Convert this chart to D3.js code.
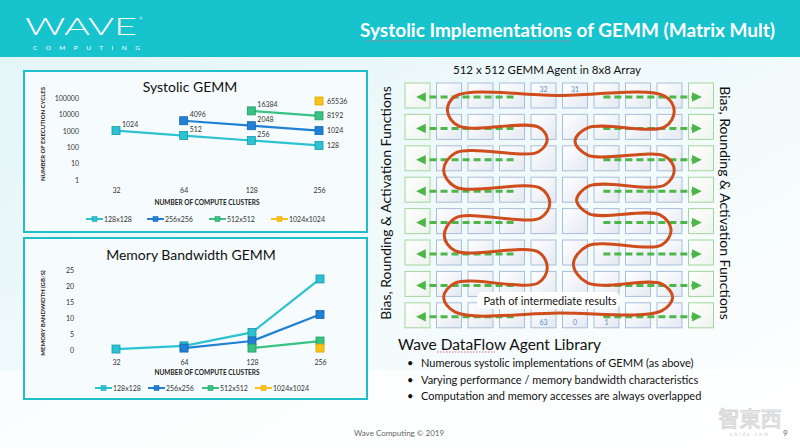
<!DOCTYPE html>
<html><head><meta charset="utf-8">
<script src="https://cdn.jsdelivr.net/npm/d3@7"></script>
<style>html,body{margin:0;padding:0;background:#fff}svg{display:block;font-family:Lato,"Open Sans",sans-serif}</style>
</head><body>
<svg id="c" width="800" height="448"></svg>
<script>
// ---------- data ----------
const clusters = ["32", "64", "128", "256"];
const seriesNames = ["128x128", "256x256", "512x512", "1024x1024"];
const cycles128 = [1024, 512, 256, 128];
const cycles256 = [null, 4096, 2048, 1024];
const cycles512 = [null, null, 16384, 8192];
const cycles1024 = [null, null, null, 65536];
const cycleTicks = [1, 10, 100, 1000, 10000, 100000];
const bw128 = [0.3, 1.3, 5.5, 22.2];
const bw256 = [null, 0.6, 2.8, 11.1];
const bw512 = [null, null, 0.6, 2.8];
const bw1024 = [null, null, null, 0.6];
const bwTicks = [0, 5, 10, 15, 20, 25];
const bullets = [
  "Numerous systolic implementations of GEMM (as above)",
  "Varying performance / memory bandwidth characteristics",
  "Computation and memory accesses are always overlapped"
];
const gridCols = 10, gridRows = 8;
const cellLabels = [[4, 0, "32"], [5, 0, "31"], [4, 7, "63"], [5, 7, "0"], [6, 7, "1"]];
// path of intermediate results, in grid units [col,row]
const pathPts = [[1.2,0.02],[4.5,0],[7.85,0.02],[8.15,0.5],[7.85,1.0],[5.4,1.03],[5.0,1.45],[5.4,1.9],[7.85,1.93],[8.15,2.37],[7.85,2.85],[5.45,2.88],[5.05,3.33],[5.45,3.77],[7.7,3.8],[8.05,4.28],[7.75,4.76],[5.4,4.79],[4.95,5.37],[5.4,5.97],[7.75,6.0],[8.1,6.42],[7.75,6.86],[4.5,6.93],[1.2,6.9],[0.83,6.42],[1.2,5.97],[3.83,5.97],[4.12,5.49],[3.83,4.98],[1.2,4.95],[0.85,4.47],[1.2,3.9],[3.9,3.9],[4.2,3.42],[3.9,2.95],[1.2,2.91],[0.83,2.37],[1.2,1.83],[3.83,1.8],[4.12,1.39],[3.83,1.0],[1.3,0.97],[0.95,0.49]];

const colors = ["#2cc2d1", "#1f80d6", "#38c283", "#fbc21c"];
const strokes = ["#1499a8", "#1463b0", "#24995f", "#e3a300"];

const svg = d3.select("#c");
const defs = svg.append("defs");
const bg = defs.append("linearGradient").attr("id","bg").attr("x1",0).attr("y1",0).attr("x2",1).attr("y2",1);
bg.append("stop").attr("offset","0%").attr("stop-color","#e2f4f7");
bg.append("stop").attr("offset","60%").attr("stop-color","#f3fbfc");
bg.append("stop").attr("offset","100%").attr("stop-color","#ffffff");
const cg = defs.append("linearGradient").attr("id","cell").attr("x1",0).attr("y1",0).attr("x2",1).attr("y2",1);
cg.append("stop").attr("offset","0%").attr("stop-color","#ffffff");
cg.append("stop").attr("offset","100%").attr("stop-color","#e3e9f1");
const gg = defs.append("linearGradient").attr("id","gcell").attr("x1",0).attr("y1",0).attr("x2",1).attr("y2",1);
gg.append("stop").attr("offset","0%").attr("stop-color","#ffffff");
gg.append("stop").attr("offset","100%").attr("stop-color","#eef3ee");
defs.append("marker").attr("id","arr").attr("viewBox","0 0 10 10").attr("refX",2).attr("refY",5)
  .attr("markerWidth",3.2).attr("markerHeight",3.2).attr("orient","auto-start-reverse")
  .append("path").attr("d","M0,0L10,5L0,10Z").attr("fill","#4cb649");

svg.append("rect").attr("width",800).attr("height",448).attr("fill","url(#bg)");
svg.append("rect").attr("y",370).attr("width",800).attr("height",78).attr("fill","#fff").attr("opacity",0.7);

// ---------- header ----------
svg.append("rect").attr("width",800).attr("height",57).attr("fill","#17c3cd");
svg.append("text").attr("x",25).attr("y",35).attr("fill","#fff").attr("font-size",24).attr("font-weight",300)
  .attr("textLength",112).attr("lengthAdjust","spacingAndGlyphs").text("WAVE");
svg.append("text").attr("x",139).attr("y",20).attr("fill","#fff").attr("font-size",4).text("®");
svg.append("text").attr("x",33).attr("y",50).attr("fill","#fff").attr("font-size",6.5)
  .attr("textLength",107).attr("lengthAdjust","spacing").text("COMPUTING");
svg.append("text").attr("x",775).attr("y",37).attr("text-anchor","end").attr("fill","#fff")
  .attr("font-size",19).attr("font-weight",700).text("Systolic Implementations of GEMM (Matrix Mult)");
svg.append("line").attr("x1",366).attr("x2",571).attr("y1",41).attr("y2",41)
  .attr("stroke","#e0677a").attr("stroke-width",1).attr("stroke-dasharray","1.5,1.5");

// ---------- chart helper ----------
function panel(cfg) {
  const g = svg.append("g");
  g.append("rect").attr("x",cfg.box[0]).attr("y",cfg.box[1]).attr("width",cfg.box[2]).attr("height",cfg.box[3])
    .attr("fill","#f6fcfd").attr("stroke","#1fbfca").attr("stroke-width",2);
  g.append("text").attr("x",cfg.titleX).attr("y",cfg.titleY).attr("text-anchor","middle").attr("font-size",14)
    .attr("fill","#111").text(cfg.title);
  const x = d3.scalePoint().domain(clusters).range(cfg.xRange);
  const y = cfg.y;
  const ya = g.append("g").attr("transform",`translate(${cfg.yAxisX},0)`)
    .call(d3.axisLeft(y).tickValues(cfg.ticks).tickFormat(cfg.fmt).tickSize(0).tickPadding(0));
  ya.select(".domain").remove();
  ya.selectAll("text").attr("font-size",7).attr("fill","#333").attr("font-family","Lato");
  const xa = g.append("g").attr("transform",`translate(0,${cfg.xAxisY})`)
    .call(d3.axisBottom(x).tickSize(0).tickPadding(0));
  xa.select(".domain").remove();
  xa.selectAll("text").attr("font-size",7).attr("fill","#333").attr("font-family","Lato");
  g.append("text").attr("x",cfg.xTitle[0]).attr("y",cfg.xTitle[1]).attr("text-anchor","middle")
    .attr("font-size",6.5).attr("font-weight",700).attr("fill","#222").text("NUMBER OF COMPUTE CLUSTERS");
  g.append("text").attr("transform",`translate(${cfg.yTitle[0]},${cfg.yTitle[1]}) rotate(-90)`).attr("text-anchor","middle")
    .attr("font-size",6).attr("font-weight",700).attr("fill","#222").text(cfg.yTitleText);
  cfg.series.forEach((vals, i) => {
    const pts = clusters.map((c, j) => ({c, v: vals[j]})).filter(d => d.v != null);
    const line = d3.line().x(d => x(d.c)).y(d => y(d.v));
    g.append("path").datum(pts).attr("d",line).attr("fill","none").attr("stroke",colors[i]).attr("stroke-width",2.2);
    g.selectAll(null).data(pts).join("rect")
      .attr("x",d => x(d.c)-4).attr("y",d => y(d.v)-4).attr("width",8).attr("height",8)
      .attr("fill",colors[i]).attr("stroke",strokes[i]).attr("stroke-width",0.8);
    if (cfg.labels) {
      g.selectAll(null).data(pts).join("text")
        .attr("x",d => x(d.c) + (d.c === "256" ? 8 : 6))
        .attr("y",d => y(d.v) + (d.c === "256" ? 2.5 : -4))
        .attr("font-size",7).attr("fill","#333").text(d => d.v);
    }
  });
  cfg.legendX.forEach((lx, i) => {
    const ly = cfg.legendY;
    g.append("line").attr("x1",lx).attr("x2",lx+17).attr("y1",ly).attr("y2",ly).attr("stroke",colors[i]).attr("stroke-width",2);
    g.append("rect").attr("x",lx+6).attr("y",ly-2.5).attr("width",5).attr("height",5).attr("fill",colors[i]).attr("stroke",strokes[i]).attr("stroke-width",0.5);
    g.append("text").attr("x",lx+18).attr("y",ly+2.5).attr("font-size",7).attr("fill","#333").text(seriesNames[i]);
  });
}

panel({
  box:[24,71,343,161], title:"Systolic GEMM", titleX:190, titleY:92,
  y: d3.scaleLog().domain([1,100000]).range([180,98]), ticks: cycleTicks, fmt: d3.format("d"),
  yAxisX:79, xRange:[116,319], xAxisY:188, xTitle:[207,205], yTitle:[45,134],
  yTitleText:"NUMBER OF EXECUTION CYCLES",
  series:[cycles128,cycles256,cycles512,cycles1024], labels:true,
  legendX:[86,147,209,271], legendY:219
});
panel({
  box:[24,238,343,161], title:"Memory Bandwidth GEMM", titleX:191, titleY:260,
  y: d3.scaleLinear().domain([0,25]).range([350,270]), ticks: bwTicks, fmt: d3.format("d"),
  yAxisX:74, xRange:[116,320], xAxisY:360, xTitle:[207,375], yTitle:[45,313],
  yTitleText:"MEMORY BANDWIDTH (GB/S)",
  series:[bw128,bw256,bw512,bw1024], labels:false,
  legendX:[95,148,202,255], legendY:388
});

// ---------- array diagram ----------
const gx = d3.scaleLinear().domain([0, gridCols-1]).range([417.5, 701]);
const gy = d3.scaleLinear().domain([0, gridRows-1]).range([95.5, 315.3]);
const dg = svg.append("g");
dg.append("text").attr("x",547).attr("y",74).attr("text-anchor","middle").attr("font-size",11.5).attr("fill","#111")
  .text("512 x 512 GEMM Agent in 8x8 Array");
const cells = [];
for (let r = 0; r < gridRows; r++) for (let c = 0; c < gridCols; c++) cells.push({r, c});
dg.selectAll(null).data(cells).join("rect")
  .attr("x",d => gx(d.c)-12.5).attr("y",d => gy(d.r)-12.5).attr("width",25).attr("height",25)
  .attr("fill",d => (d.c === 0 || d.c === gridCols-1) ? "url(#gcell)" : "url(#cell)")
  .attr("stroke",d => (d.c === 0 || d.c === gridCols-1) ? "#a3d69e" : "#a9bedb").attr("stroke-width",1);
dg.selectAll(null).data(cellLabels).join("text")
  .attr("x",d => gx(d[0])).attr("y",d => d[1] === 0 ? gy(d[1]) - 4 : gy(d[1]) + 9.5)
  .attr("text-anchor","middle").attr("font-size",7).attr("fill","#5a8fc8").text(d => d[2]);
const rows = d3.range(gridRows);
dg.selectAll(null).data(rows).join("line")
  .attr("x1",gx(3.05)).attr("x2",gx(0.2)).attr("y1",d => gy(d)+1.5).attr("y2",d => gy(d)+1.5)
  .attr("stroke","#4cb649").attr("stroke-width",3).attr("stroke-dasharray","7,4").attr("marker-end","url(#arr)");
dg.selectAll(null).data(rows).join("line")
  .attr("x1",gx(5.9)).attr("x2",gx(8.78)).attr("y1",d => gy(d)+1.5).attr("y2",d => gy(d)+1.5)
  .attr("stroke","#4cb649").attr("stroke-width",3).attr("stroke-dasharray","7,4").attr("marker-end","url(#arr)");
dg.append("path").datum(pathPts)
  .attr("d", d3.line().x(d => gx(d[0])).y(d => gy(d[1])).curve(d3.curveCatmullRomClosed.alpha(0.5)))
  .attr("fill","none").attr("stroke","#cf4d1c").attr("stroke-width",3);
dg.append("rect").attr("x",477).attr("y",292).attr("width",143).attr("height",17).attr("rx",6)
  .attr("fill","#fff");
dg.append("text").attr("x",550).attr("y",305).attr("text-anchor","middle").attr("font-size",11).attr("fill","#111")
  .text("Path of intermediate results");
dg.append("text").attr("transform","translate(391,203) rotate(-90)").attr("text-anchor","middle")
  .attr("font-size",14).attr("fill","#111").text("Bias, Rounding & Activation Functions");
dg.append("text").attr("transform","translate(720,203) rotate(90)").attr("text-anchor","middle")
  .attr("font-size",14).attr("fill","#111").text("Bias, Rounding & Activation Functions");

// ---------- bottom text ----------
svg.append("text").attr("x",398).attr("y",350).attr("font-size",15.5).attr("fill","#111").text("Wave DataFlow Agent Library");
svg.append("line").attr("x1",437).attr("x2",495).attr("y1",352).attr("y2",352)
  .attr("stroke","#e0677a").attr("stroke-width",1).attr("stroke-dasharray","1.5,1.5");
bullets.forEach((b, i) => {
  svg.append("text").attr("x",407).attr("y",367+i*16.5).attr("font-size",11).attr("fill","#111").text("•");
  svg.append("text").attr("x",421).attr("y",367+i*16.5).attr("font-size",11).attr("fill","#111").text(b);
});
svg.append("text").attr("x",399).attr("y",436).attr("text-anchor","middle").attr("font-size",8).attr("fill","#666").text("Wave Computing © 2019");
svg.append("text").attr("x",783).attr("y",436).attr("font-size",8).attr("fill","#666").text("9");
svg.append("text").attr("x",750).attr("y",426).attr("text-anchor","middle").attr("font-size",21)
  .attr("font-family","Noto Sans CJK SC").attr("fill","none").attr("stroke","#d8d8d8").attr("stroke-width",1.2).text("智東西");
svg.append("text").attr("x",750).attr("y",436).attr("text-anchor","middle").attr("font-size",5)
  .attr("fill","#ccc").attr("letter-spacing",2).text("zhidx.com");
</script>
</body></html>
